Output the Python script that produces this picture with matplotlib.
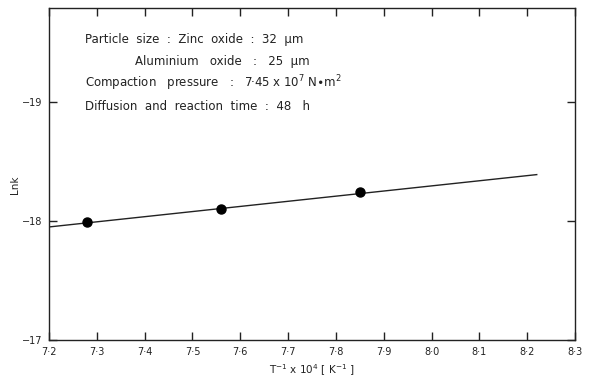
"""Arrhenius-type plot of Lnk against inverse temperature."""

import matplotlib
matplotlib.use("Agg")
import matplotlib.pyplot as plt

# measured points
inv_temp = [7.28, 7.56, 7.85]
ln_k = [-17.99, -18.10, -18.24]

# fitted line end points
fit_x = [7.2, 8.22]
fit_y = [-17.95, -18.39]

x_ticks = [7.2, 7.3, 7.4, 7.5, 7.6, 7.7, 7.8, 7.9, 8.0, 8.1, 8.2, 8.3]
y_ticks = [-17, -18, -19]

notes = [
    "Particle  size  :  Zinc  oxide  :  32  \u03bcm",
    "Aluminium   oxide   :   25  \u03bcm",
    "Compaction   pressure   :   7\u00b745 x 10$^{7}$ N$\\bullet$m$^{2}$",
    "Diffusion  and  reaction  time  :  48   h",
]

ink = "#222222"
plt.rcParams["font.family"] = "DejaVu Sans"

fig = plt.figure(figsize=(5.95, 3.86), dpi=100)
ax = fig.add_axes([0.0824, 0.1192, 0.884, 0.86])

ax.plot(fit_x, fit_y, color=ink, linewidth=1.0)
ax.plot(inv_temp, ln_k, "o", color="black", markersize=6.5)

ax.set_xlim(7.2, 8.3)
ax.set_ylim(-17, -19.79)
ax.set_xticks(x_ticks)
ax.set_xticklabels([f"{v:.1f}".replace(".", "\u00b7") for v in x_ticks])
ax.set_yticks(y_ticks)
ax.set_yticklabels([f"\u2212{abs(v)}" for v in y_ticks])
ax.tick_params(direction="in", length=6, width=1.0, colors=ink, labelsize=7,
               top=True, right=True, pad=5)
for s in ax.spines.values():
    s.set_linewidth(1.0)
    s.set_color(ink)

ax.set_ylabel("Lnk", fontsize=7.5, color=ink)
ax.yaxis.set_label_coords(-0.055, 0.467)
ax.set_xlabel("T$^{-1}$ x 10$^{4}$ [ K$^{-1}$ ]", fontsize=7.5, color=ink, labelpad=4)

note_x = [85, 135, 85, 85]
note_y = [40, 61, 83, 106]
for txt, nx, ny in zip(notes, note_x, note_y):
    fig.text(nx / 595, 1 - ny / 386, txt, fontsize=8.5, color=ink, va="center", ha="left")

fig.savefig("out.png", dpi=100)
